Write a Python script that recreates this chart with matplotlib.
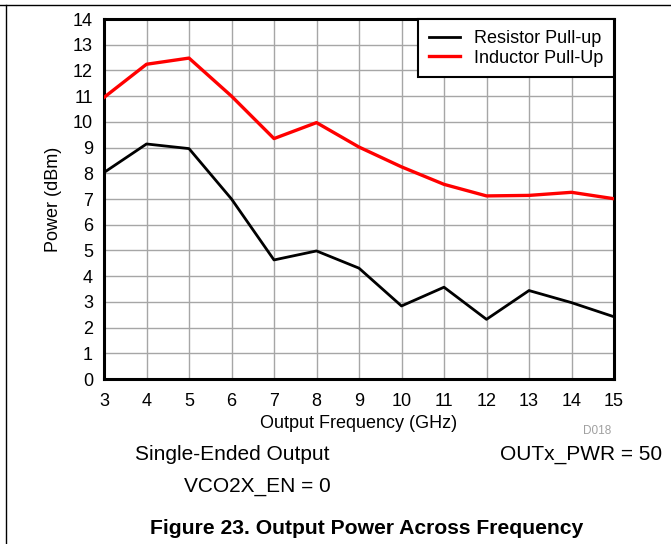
import matplotlib
matplotlib.use("Agg")
import matplotlib.pyplot as plt
from matplotlib.lines import Line2D

plt.rcParams['font.family'] = ['Liberation Sans', 'DejaVu Sans']

freq = [3, 4, 5, 6, 7, 8, 9, 10, 11, 12, 13, 14, 15]
resistor = [8.03, 9.14, 8.96, 7.0, 4.63, 4.98, 4.31, 2.84, 3.57, 2.32, 3.44, 2.97, 2.42]
inductor = [10.95, 12.24, 12.48, 11.0, 9.35, 9.97, 9.02, 8.25, 7.57, 7.12, 7.14, 7.26, 7.01]
xticks = list(range(3, 16))
yticks = list(range(0, 15))

W, H = 671, 544
fig = plt.figure(figsize=(W / 100, H / 100), dpi=100)
ax = fig.add_axes([104 / W, 1 - 379 / H, (614 - 104) / W, (379 - 19) / H])

ax.plot(freq, resistor, color='black', lw=2.0, label='Resistor Pull-up', zorder=3)
ax.plot(freq, inductor, color='#ff0000', lw=2.4, label='Inductor Pull-Up', zorder=3)

ax.set_xlim(3, 15)
ax.set_ylim(0, 14)
ax.set_xticks(xticks)
ax.set_yticks(yticks)
ax.grid(True, color='#a6a6a6', lw=1.0)
ax.set_axisbelow(True)
ax.tick_params(axis='x', length=0, labelsize=13, pad=10)
ax.tick_params(axis='y', length=0, labelsize=13, pad=8)
for s in ax.spines.values():
    s.set_linewidth(2.2)
    s.set_color('black')

ax.set_xlabel('Output Frequency (GHz)', fontsize=13, labelpad=3.5)
ax.set_ylabel('Power (dBm)', fontsize=13, labelpad=8)

leg = ax.legend(loc='upper right', fontsize=13, frameon=True, fancybox=False,
                borderaxespad=0, handlelength=1.75, handletextpad=0.75,
                borderpad=0.6, labelspacing=0.15)
leg.get_frame().set_edgecolor('black')
leg.get_frame().set_linewidth(1.5)
leg.get_frame().set_alpha(1)

fig.text(597 / W, 1 - 431 / H, 'D018', fontsize=8.5, color='#a0a0a0', ha='center', va='center')
fig.text(232 / W, 1 - 455 / H, 'Single-Ended Output', fontsize=15, ha='center', va='center')
fig.text(662 / W, 1 - 455 / H, 'OUTx_PWR = 50', fontsize=15, ha='right', va='center')
fig.text(257 / W, 1 - 487 / H, 'VCO2X_EN = 0', fontsize=15, ha='center', va='center')
fig.text(367 / W, 1 - 528 / H, 'Figure 23. Output Power Across Frequency', fontsize=15.2,
         fontweight='bold', ha='center', va='center')

fig.add_artist(Line2D([0, 1], [1 - 4.5 / H, 1 - 4.5 / H], color='black', lw=1.0, transform=fig.transFigure))
fig.add_artist(Line2D([5.5 / W, 5.5 / W], [0, 1 - 4.5 / H], color='black', lw=1.0, transform=fig.transFigure))

fig.savefig('out.png', dpi=100)
